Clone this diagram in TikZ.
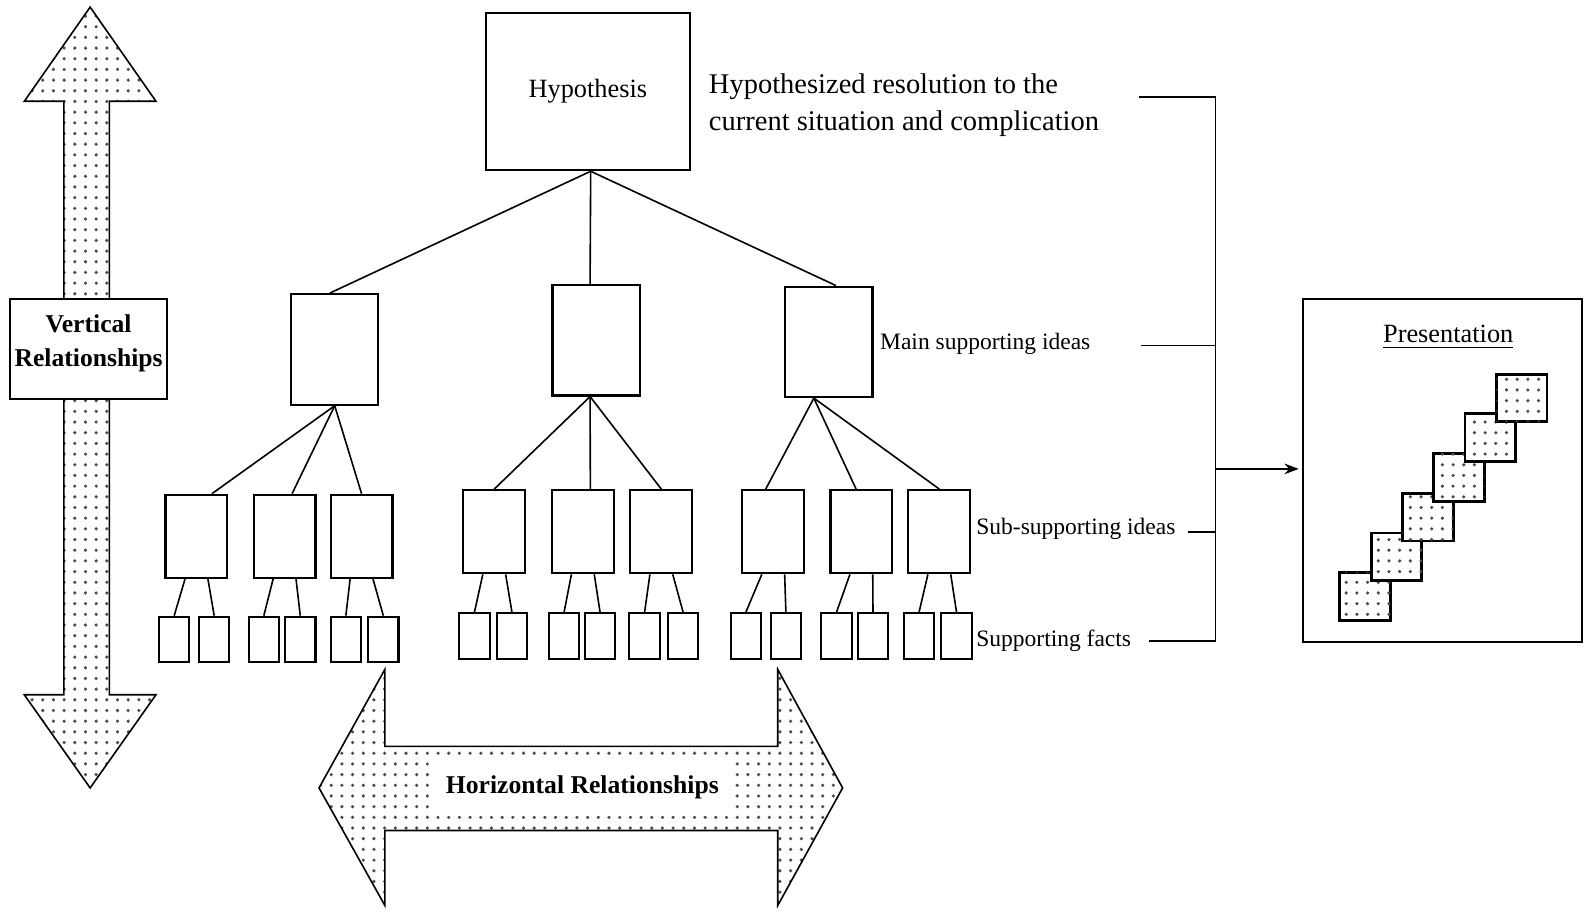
\documentclass[tikz,border=0pt]{standalone}
\usepackage{fontspec}
\setmainfont{Liberation Serif}
\usetikzlibrary{patterns,arrows.meta}

\begin{document}
\begin{tikzpicture}[x=0.01cm, y=-0.01cm, semithick,
   box/.style={draw, fill=white, inner sep=0pt},
   mainbox/.style={box, minimum width=0.86cm, minimum height=1.09cm},
   subbox/.style={box, minimum width=0.61cm, minimum height=0.82cm},
   factbox/.style={box, minimum width=0.30cm, minimum height=0.45cm},
   slide/.style={draw, thick, fill=white, postaction={pattern=dots, pattern color=black!70},
                 minimum width=0.50cm, minimum height=0.47cm, inner sep=0pt},
   bigarrow/.style={draw, line width=0.45pt, pattern=dots, pattern color=black!70},
   link/.style={line width=0.45pt},
   lbl/.style={anchor=west, inner sep=0pt, font=\fontsize{6.6}{8}\selectfont},
   boldlbl/.style={inner sep=0pt, align=center, font=\fontsize{7.2}{9.4}\selectfont\bfseries}]

\useasboundingbox (0,0) rectangle (1568,902);

% the two relationship arrows
\draw[bigarrow] (89,7) -- (154,100) -- (108,100) -- (108,686) -- (154,686) -- (89,778)
   -- (24,686) -- (63,686) -- (63,100) -- (24,100) -- cycle;
\draw[bigarrow] (315,778) -- (380,661) -- (380,737) -- (768,737) -- (768,661) -- (832,778)
   -- (768,894) -- (768,820) -- (380,820) -- (380,894) -- cycle;

\node[box, minimum width=1.55cm, minimum height=0.99cm] (vert) at (87.5,344.5) {};
\node[boldlbl, anchor=north] (verttext) at (87.5,310) {Vertical\\Relationships};
\node[boldlbl, fill=white, inner xsep=3pt, inner ysep=5pt] (horiz) at (575,777) {Horizontal Relationships};

% pyramid
\node[box, minimum width=2.01cm, minimum height=1.55cm, font=\fontsize{7.4}{9}\selectfont] (hyp) at (580.5,90.5) {Hypothesis};
\node[anchor=north west, align=left, inner sep=0pt, font=\fontsize{8}{10.2}\selectfont] (hypnote) at (699,72)
   {Hypothesized resolution to the\\current situation and complication};

\node[mainbox] (m1) at (330.5,345) {};
\node[mainbox] (m2) at (588.5,336) {};
\node[mainbox] (m3) at (818.5,337.5) {};

\foreach \m/\a in {m1/95, m2/96, m3/83}
   \draw[link] (hyp.-88) -- (\m.\a);

\foreach \n/\x/\y in {s1/194/529.5, s2/281/529.5, s3/357/529.5,
                      s4/488/525, s5/575.5/525, s6/653/525,
                      s7/763.5/525, s8/850.5/525, s9/927.5/525}
   \node[subbox] (\n) at (\x,\y) {};

\foreach \n/\x/\y in {f1/172/631.5, f2/211.5/631.5, f3/260.5/631.5, f4/296.5/631.5, f5/341.5/631.5, f6/378.5/631.5,
                      f7/468.5/628, f8/505.5/628, f9/557/628, f10/592.5/628, f11/636.5/628, f12/674.5/628,
                      f13/736.5/628, f14/776/628, f15/826/628, f16/862/628, f17/907.5/628, f18/944.5/628}
   \node[factbox] (\n) at (\x,\y) {};

\foreach \m/\b/\s/\a in {m1/-90/s1/70, m1/-90/s2/80, m1/-90/s3/90,
                         m2/-96/s4/90, m2/-96/s5/80, m2/-96/s6/90,
                         m3/-105/s7/100, m3/-105/s8/97, m3/-105/s9/90}
   \draw[link] (\m.\b) -- (\s.\a);

\foreach \s/\l/\r in {s1/f1/f2, s2/f3/f4, s3/f5/f6, s4/f7/f8, s5/f9/f10,
                      s6/f11/f12, s7/f13/f14, s8/f15/f16, s9/f17/f18}
{
   \draw[link] (\s.-105) -- (\l.north);
   \draw[link] (\s.-75) -- (\r.north);
}

\node[lbl] (mainlbl) at (868,340) {Main supporting ideas};
\node[lbl] (sublbl) at (963,522) {Sub-supporting ideas};
\node[lbl] (factlbl) at (963,633) {Supporting facts};

% bracket
\coordinate (t1) at (1125,96);
\coordinate (t2) at (1127,341);
\coordinate (t3) at (1173,525);
\coordinate (t4) at (1135,633);
\coordinate (j1) at (1200,96);
\coordinate (j2) at (1200,341);
\coordinate (j3) at (1200,525);
\coordinate (j4) at (1200,633);
\coordinate (jm) at (1200,463);

\draw[link] (t1) -- (j1) -- (j4) -- (t4);
\draw[link] (t2) -- (j2);
\draw[link] (t3) -- (j3);

% presentation
\node[box, minimum width=2.75cm, minimum height=3.39cm] (pres) at (1424.5,464.5) {};
\node[inner sep=0pt, font=\fontsize{7.4}{9}\selectfont] (prestitle) at (1430,333) {\underline{Presentation}};
\foreach \i in {0,...,5}
   \node[slide] (slide\i) at ({1348+30.9*\i},{589-39.2*\i}) {};

\draw[link, -{Stealth[length=4pt, width=3pt]}, shorten >=1pt] (jm) -- (pres.west |- jm);
\end{tikzpicture}
\end{document}
